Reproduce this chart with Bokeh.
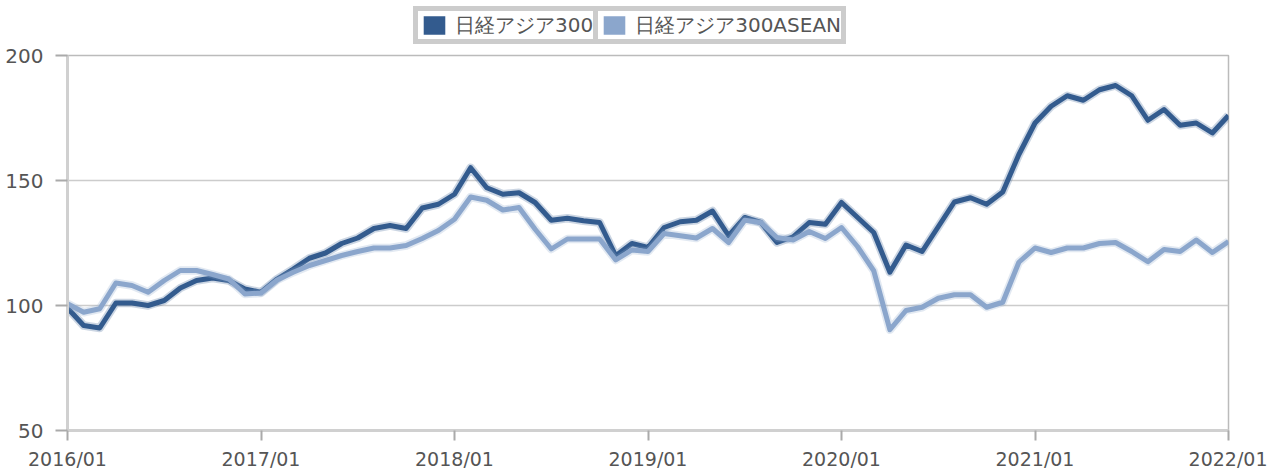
import pandas as pd
from bokeh.plotting import figure
from bokeh.layouts import column
from bokeh.models import ColumnDataSource, Legend, LegendItem, FixedTicker, Range1d
from bokeh.embed import file_html
from bokeh.resources import INLINE

# ---- data (monthly, 2016/01 - 2022/01) ----
months = [d.strftime("%Y/%m") for d in pd.date_range("2016-01-01", "2022-01-01", freq="MS")]

asia300 = [99, 92, 91, 101, 101, 100, 102, 107, 110, 111, 110, 106.6,
           105.3, 110.6, 114.6, 118.9, 121, 124.8, 127, 130.8, 132, 130.8, 139, 140.5,
           144.5, 155.1, 147.1, 144.5, 145.1, 141.2, 134.1, 134.9, 133.9, 133.2, 119.9, 124.8,
           123.2, 131.2, 133.5, 134.1, 137.8, 127.9, 135.2, 133.2, 125.2, 127.5, 133.2, 132.5,
           141.2, 135.2, 129.2, 113.3, 124.2, 121.6, 131.5, 141.4, 143.1, 140.5, 145.4, 160.4,
           173, 179.7, 183.9, 182.1, 186.3, 188, 183.9, 174.1, 178.4, 172.1, 173, 169,
           176]

asean = [100.7, 97.3, 98.7, 109, 108, 105.3, 110, 114, 114, 112.4, 110.6, 104.6,
         105, 110.2, 113.3, 116, 118, 120, 121.6, 123, 123, 124, 126.8, 130,
         134.5, 143.4, 142.1, 138.2, 139.2, 130.5, 122.6, 126.6, 126.6, 126.6, 118.2, 122.2,
         121.6, 128.8, 127.9, 127, 130.8, 125.2, 134.1, 133.2, 127.2, 126.2, 129.6, 126.8,
         131.2, 123.5, 113.9, 90.3, 98, 99.3, 102.9, 104.3, 104.3, 99.3, 101.3, 117.3,
         123, 121.2, 123, 123, 124.8, 125.2, 121.6, 117.5, 122.4, 121.6, 126.2, 121.2,
         125.6]

series_names = ["日経アジア300", "日経アジア300ASEAN"]
series_colors = ["#335b8e", "#8ba6cc"]
y_ticks = [50, 100, 150, 200]
x_tick_labels = ["2016/01", "2017/01", "2018/01", "2019/01", "2020/01", "2021/01", "2022/01"]

idx = list(range(len(months)))
src = ColumnDataSource(dict(x=idx, a=asia300, b=asean))

FONT = "DejaVu Sans"
TXT = "#555555"
W = 1267

# ---------------- main chart ----------------
p = figure(width=W, height=427, output_backend="svg", toolbar_location=None,
           x_range=Range1d(0, len(months) - 1), y_range=Range1d(50, 200),
           min_border_left=67, min_border_right=39, min_border_top=10, min_border_bottom=41)

p.outline_line_color = "#bbbbbb"
p.outline_line_width = 1.5
p.background_fill_color = "white"
p.border_fill_color = "white"

p.xgrid.grid_line_color = None
p.ygrid.grid_line_color = "#cccccc"
p.ygrid.grid_line_width = 1.5

p.yaxis.ticker = FixedTicker(ticks=y_ticks)
p.yaxis.axis_line_color = "#d0d0d0"
p.yaxis.axis_line_width = 3
p.yaxis.major_tick_line_color = "#aaaaaa"
p.yaxis.major_tick_line_width = 2
p.yaxis.major_tick_out = 12
p.yaxis.major_tick_in = 0
p.yaxis.minor_tick_line_color = None
p.yaxis.major_label_text_font = FONT
p.yaxis.major_label_text_font_size = "20px"
p.yaxis.major_label_text_color = TXT
p.yaxis.major_label_standoff = 12

tick_pos = [months.index(t) for t in x_tick_labels]
p.xaxis.ticker = FixedTicker(ticks=tick_pos)
p.xaxis.major_label_overrides = {i: months[i] for i in tick_pos}
p.xaxis.axis_line_color = "#d0d0d0"
p.xaxis.axis_line_width = 3
p.xaxis.major_tick_line_color = "#aaaaaa"
p.xaxis.major_tick_line_width = 2
p.xaxis.major_tick_out = 10
p.xaxis.major_tick_in = 0
p.xaxis.minor_tick_line_color = None
p.xaxis.major_label_text_font = FONT
p.xaxis.major_label_text_font_size = "19px"
p.xaxis.major_label_text_color = TXT
p.xaxis.major_label_standoff = 7

for col, color in zip(["a", "b"], series_colors):
    p.line("x", col, source=src, line_color=color, line_width=8.5, line_alpha=0.25, line_join="round")
    p.line("x", col, source=src, line_color=color, line_width=5, line_join="round")

# ---------------- legend strip ----------------
lg = figure(width=W, height=45, output_backend="svg", toolbar_location=None,
            x_range=Range1d(0, 1), y_range=Range1d(0, 1),
            x_axis_type=None, y_axis_type=None,
            min_border_left=0, min_border_right=0, min_border_top=0, min_border_bottom=0)
lg.outline_line_color = None
lg.xgrid.grid_line_color = None
lg.ygrid.grid_line_color = None

nan = float("nan")
items = []
for name, color in zip(series_names, series_colors):
    r = lg.quad(left=[nan], right=[nan], top=[nan], bottom=[nan],
                fill_color=color, line_color="white", line_width=4)
    items.append(LegendItem(label=name, renderers=[r]))

legend = Legend(items=items, orientation="horizontal", location=(346, 1),
                label_text_font=FONT, label_text_font_size="20px", label_text_color=TXT,
                glyph_width=32, glyph_height=28, label_standoff=5,
                spacing=5, padding=3, margin=0,
                border_line_color="#cccccc", border_line_width=2,
                background_fill_color="#cccccc", background_fill_alpha=1,
                item_background_policy="every", item_background_fill_color="white",
                item_background_fill_alpha=1)
lg.add_layout(legend)

layout = column(lg, p, spacing=0)
open("out.html", "w").write(file_html(layout, INLINE))
